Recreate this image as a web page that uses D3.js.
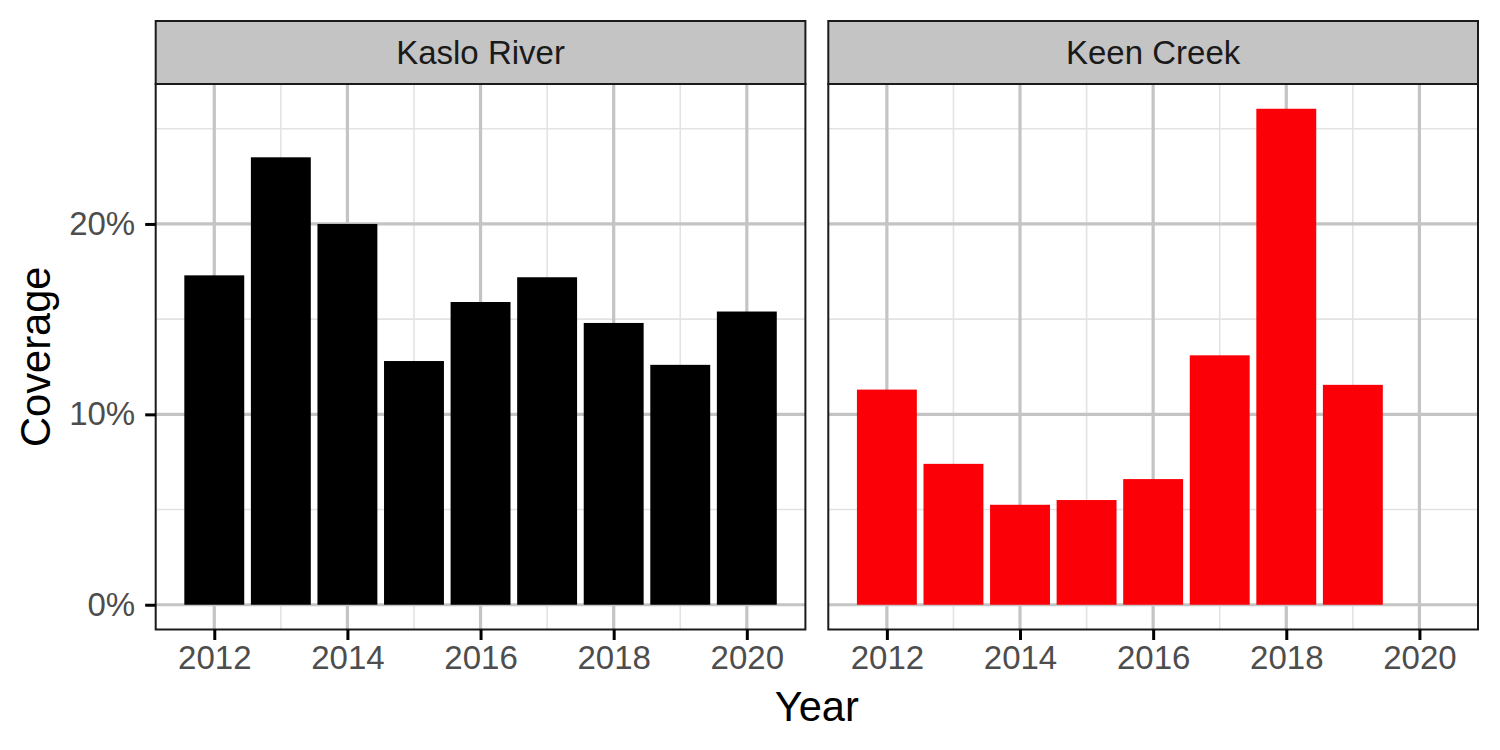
<!DOCTYPE html>
<html>
<head>
<meta charset="utf-8">
<script src="https://cdn.jsdelivr.net/npm/d3@7"></script>
<style>
  body { margin: 0; background: #fff; }
  svg { display: block; font-family: "Liberation Sans", Arial, sans-serif; }
</style>
</head>
<body>
<svg id="chart" width="1500" height="750"></svg>
<script>
// ---- Data ----
const sites = ["Kaslo River", "Keen Creek"];
const siteColors = ["#000000", "#fb0007"];
const kasloYears = [2012, 2013, 2014, 2015, 2016, 2017, 2018, 2019, 2020];
const kasloCoverage = [17.3, 23.5, 20.0, 12.8, 15.9, 17.2, 14.8, 12.6, 15.4];
const keenYears = [2012, 2013, 2014, 2015, 2016, 2017, 2018, 2019];
const keenCoverage = [11.3, 7.4, 5.25, 5.5, 6.6, 13.1, 26.05, 11.55];
const xTicks = [2012, 2014, 2016, 2018, 2020];
const xMinor = [2013, 2015, 2017, 2019];
const yTicks = [0, 10, 20];
const yMinor = [5, 15, 25];

const seriesData = [
  kasloYears.map((y, i) => ({ year: y, value: kasloCoverage[i] })),
  keenYears.map((y, i) => ({ year: y, value: keenCoverage[i] }))
];

// ---- Layout ----
const svg = d3.select("#chart");
const panelLefts = [155.7, 828.3];
const panelW = 649.7;
const stripTop = 21, panelTop = 84, panelBottom = 629.5;

const x = d3.scaleLinear().domain([2011.12, 2020.88]).range([0, panelW]);
const y = d3.scaleLinear().domain([-1.3, 27.35]).range([panelBottom, panelTop]);
const barW = x(2012.45) - x(2011.55);

sites.forEach((site, p) => {
  const g = svg.append("g").attr("transform", `translate(${panelLefts[p]},0)`);

  // panel background
  g.append("rect").attr("x", 0).attr("y", panelTop).attr("width", panelW)
    .attr("height", panelBottom - panelTop).attr("fill", "#fff");

  // minor grid
  g.selectAll(".ymin").data(yMinor).join("line")
    .attr("x1", 0).attr("x2", panelW).attr("y1", d => y(d)).attr("y2", d => y(d))
    .attr("stroke", "#e3e3e3").attr("stroke-width", 1.6);
  g.selectAll(".xmin").data(xMinor).join("line")
    .attr("y1", panelTop).attr("y2", panelBottom).attr("x1", d => x(d)).attr("x2", d => x(d))
    .attr("stroke", "#e3e3e3").attr("stroke-width", 1.6);
  // major grid
  g.selectAll(".ymaj").data(yTicks).join("line")
    .attr("x1", 0).attr("x2", panelW).attr("y1", d => y(d)).attr("y2", d => y(d))
    .attr("stroke", "#c4c4c4").attr("stroke-width", 3.2);
  g.selectAll(".xmaj").data(xTicks).join("line")
    .attr("y1", panelTop).attr("y2", panelBottom).attr("x1", d => x(d)).attr("x2", d => x(d))
    .attr("stroke", "#c4c4c4").attr("stroke-width", 3.2);

  // bars
  g.selectAll(".bar").data(seriesData[p]).join("rect")
    .attr("x", d => x(d.year) - barW / 2)
    .attr("width", barW)
    .attr("y", d => y(d.value))
    .attr("height", d => y(0) - y(d.value))
    .attr("fill", siteColors[p]);

  // panel border
  g.append("rect").attr("x", 0).attr("y", panelTop).attr("width", panelW)
    .attr("height", panelBottom - panelTop).attr("fill", "none")
    .attr("stroke", "#1a1a1a").attr("stroke-width", 2);

  // strip
  g.append("rect").attr("x", 0).attr("y", stripTop).attr("width", panelW)
    .attr("height", panelTop - stripTop).attr("fill", "#c4c4c4")
    .attr("stroke", "#1a1a1a").attr("stroke-width", 2);
  g.append("text").attr("x", panelW / 2).attr("y", (stripTop + panelTop) / 2)
    .attr("text-anchor", "middle").attr("dominant-baseline", "central")
    .attr("font-size", 33).attr("fill", "#1a1a1a").text(site);

  // x axis
  const xAxis = d3.axisBottom(x).tickValues(xTicks).tickFormat(d3.format("d"))
    .tickSize(10.5).tickPadding(6);
  const xg = g.append("g").attr("transform", `translate(0,${panelBottom})`).call(xAxis);
  xg.select(".domain").remove();
  xg.selectAll(".tick line").attr("stroke", "#000").attr("stroke-width", 3);
  xg.selectAll(".tick text").attr("font-size", 33).attr("fill", "#4d4d4d")
    .attr("font-family", "Liberation Sans, Arial, sans-serif");

  if (p === 0) {
    const yAxis = d3.axisLeft(y).tickValues(yTicks).tickFormat(d => d + "%")
      .tickSize(10.5).tickPadding(10);
    const yg = g.append("g").call(yAxis);
    yg.select(".domain").remove();
    yg.selectAll(".tick line").attr("stroke", "#000").attr("stroke-width", 3);
    yg.selectAll(".tick text").attr("font-size", 33).attr("fill", "#4d4d4d")
      .attr("font-family", "Liberation Sans, Arial, sans-serif");
  }
});

// axis titles
svg.append("text").attr("x", (panelLefts[0] + panelLefts[1] + panelW) / 2).attr("y", 721)
  .attr("text-anchor", "middle").attr("font-size", 41.6).attr("fill", "#000").text("Year");
svg.append("text")
  .attr("transform", `translate(50,${(panelTop + panelBottom) / 2}) rotate(-90)`)
  .attr("text-anchor", "middle").attr("font-size", 41.6).attr("fill", "#000").text("Coverage");
</script>
</body>
</html>
